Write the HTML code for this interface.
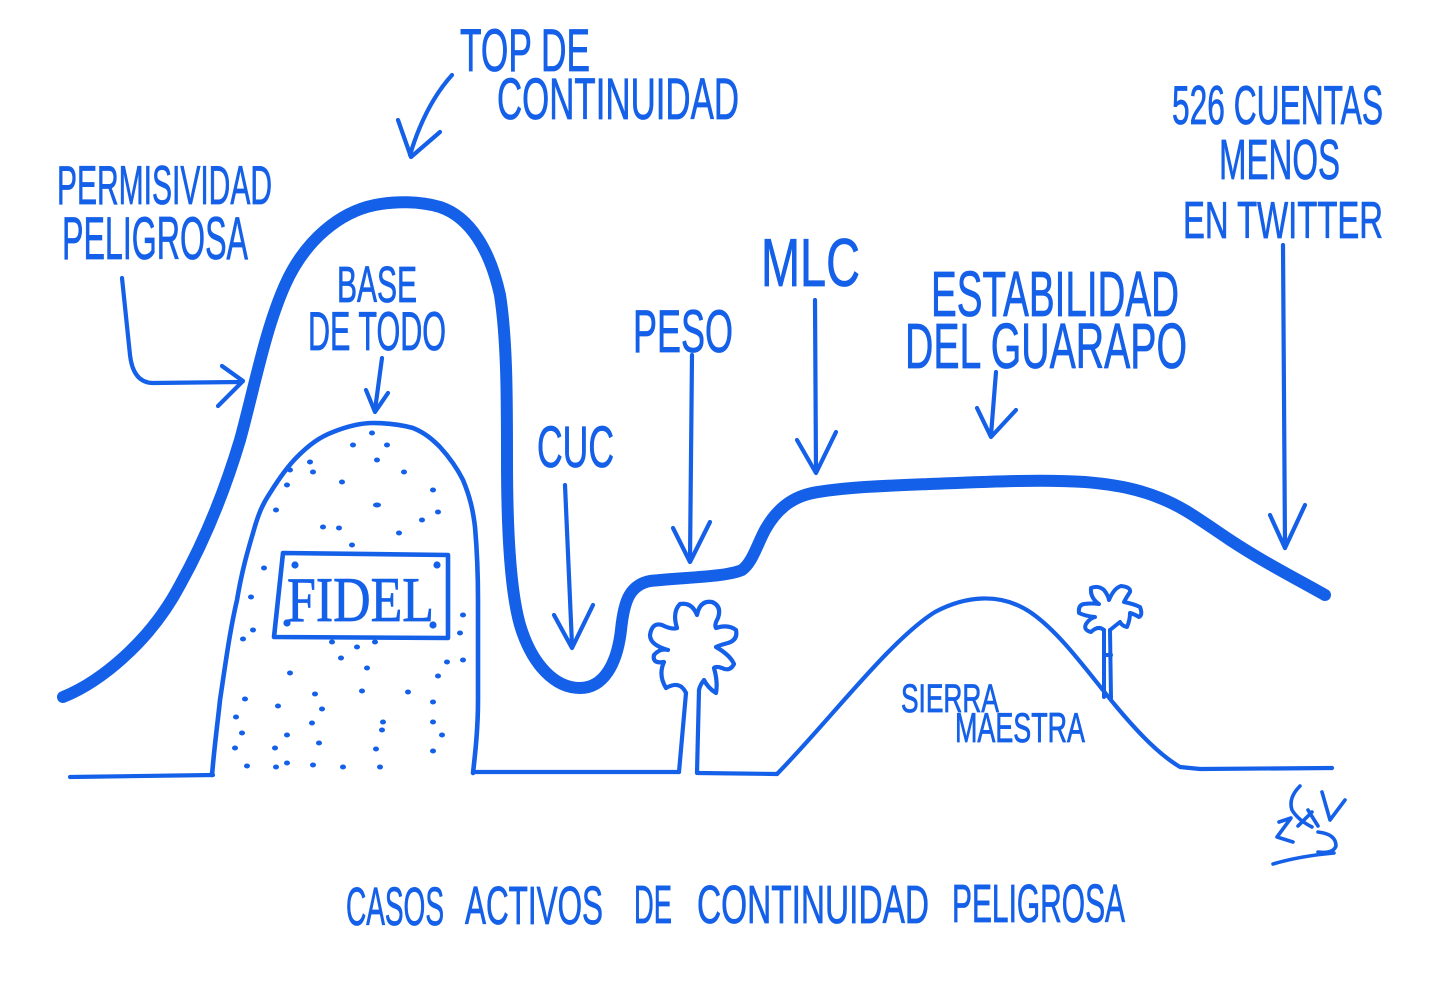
<!DOCTYPE html>
<html><head><meta charset="utf-8">
<style>
html,body{margin:0;padding:0;background:#fff;}
svg{display:block;}
text{font-family:"Liberation Sans",sans-serif;fill:#1560e8;stroke:#1560e8;stroke-width:0.8px;}
.serif{font-family:"Liberation Serif",serif;}
</style></head>
<body>
<svg width="1440" height="986" viewBox="0 0 1440 986" xmlns="http://www.w3.org/2000/svg">
<rect width="1440" height="986" fill="#fff"/>
<g fill="none" stroke="#1560e8" stroke-linecap="round" stroke-linejoin="round">
<!-- main curve -->
<path stroke-width="12" d="M63 697 C100 682,150 642,180 585 C205 540,225 490,240 440 C255 385,265 330,285 285 C305 240,340 212,375 205 C395 201,420 201,440 207 C470 217,490 250,500 295 C507 340,507 400,507 460 C507 530,510 590,520 625 C532 665,555 688,580 688 C603 688,617 665,621 630 C624 600,630 585,650 581 C690 577,725 577,742 570 C752 563,757 545,765 530 C775 512,790 496,818 492 C850 487,880 486,930 484 C980 482,1040 479,1085 482 C1120 485,1140 490,1160 498 C1185 508,1200 520,1230 540 C1265 563,1295 578,1325 595"/>
<!-- arrows -->
<g stroke-width="4.2">
<path d="M122 278 L130 355 Q133 382 152 383 L240 382"/>
<path d="M222 366 L243 381 L218 406"/>
<path d="M452 75 Q425 105 410 155"/>
<path d="M398 120 L411 157 L440 132"/>
<path d="M382 358 L375 410"/>
<path d="M366 390 L375 412 L388 393"/>
<path d="M565 485 L572 645"/>
<path d="M554 615 L572 648 L593 605"/>
<path d="M692 355 L690 560"/>
<path d="M673 528 L690 562 L710 522"/>
<path d="M815 300 L816 472"/>
<path d="M797 440 L816 473 L836 432"/>
<path d="M996 372 L991 435"/>
<path d="M977 408 L991 437 L1016 410"/>
<path d="M1283 245 L1285 548"/>
<path d="M1270 515 L1285 548 L1305 505"/>
</g>
<!-- tombstone -->
<path stroke-width="4.6" d="M212 775 C215 740,218 720,220 700 C226 660,230 630,237 600 C242 570,248 550,253 533 C258 515,262 505,270 493 C280 477,288 466,297 457 C310 444,320 437,333 432 C348 426,360 423,373 423 C390 423,402 425,413 428 C425 433,432 439,440 447 C450 458,457 468,463 480 C470 497,473 510,475 527 C477 550,478 575,478 600 C478 640,478 670,478 700 C478 730,475 755,473 773"/>
<path stroke-width="4.6" d="M283 553 L448 555 L448 638 L274 637 Z"/>
<!-- ground -->
<g stroke-width="4.2">
<path d="M70 777 L213 775"/>
<path d="M474 772 L679 772"/>
<path d="M698 773 L777 774"/>
<path d="M777 774 C830 720,890 640,935 612 C965 596,1000 592,1030 612 C1060 632,1090 675,1115 705 C1140 735,1160 755,1180 767 L1200 769 L1332 768"/>
</g>
<!-- palm 1 -->
<g stroke-width="4.2">
<path d="M686 693 L679 772"/>
<path d="M699 690 L697 773"/>
<path d="M686 693 Q680 680 666 688 Q658 675 664 662 Q652 664 654 655 Q660 648 668 650 Q650 645 650 635 Q652 622 662 625 Q672 630 677 628 Q672 612 680 604 Q692 602 697 615 Q700 600 712 602 Q722 606 718 618 Q714 625 716 628 Q728 624 736 630 Q738 640 728 643 Q720 645 716 647 Q730 655 734 664 Q730 672 722 668 Q716 666 714 668 Q718 682 716 693 Q708 688 704 680 Q700 685 699 690"/>
</g>
<!-- palm 2 -->
<g stroke-width="4">
<path d="M1104 630 L1104 697"/>
<path d="M1110 630 L1111 698"/>
<path d="M1104 655 L1111 655"/>
<path d="M1104 630 Q1098 625 1091 632 Q1083 630 1086 624 Q1090 618 1095 617 Q1085 616 1079 613 Q1078 605 1084 604 Q1092 603 1099 604 Q1090 598 1091 588 Q1098 585 1104 590 Q1108 595 1109 600 Q1114 588 1121 586 Q1131 587 1130 592 Q1126 598 1124 602 Q1134 604 1140 607 Q1143 615 1139 617 Q1134 614 1130 613 Q1130 620 1127 627 Q1122 626 1120 622 Q1115 626 1110 630"/>
</g>
<!-- signature -->
<g stroke-width="3.6">
<path d="M1300 786 Q1288 798 1292 810 Q1298 820 1312 827"/>
<path d="M1322 792 L1330 820 L1345 800"/>
<path d="M1279 822 L1291 818 L1277 837 L1293 842"/>
<path d="M1308 810 L1318 826"/>
<path d="M1298 826 L1312 812"/>
<path d="M1318 832 Q1336 834 1336 846 Q1333 854 1318 852"/>
<path d="M1273 864 Q1300 856 1334 853"/>
</g>
</g>
<!-- dots -->
<g fill="#1560e8">
<ellipse cx="372" cy="433" rx="3" ry="2.5"/><ellipse cx="353" cy="445" rx="3" ry="2.5"/><ellipse cx="387" cy="445" rx="3" ry="2.5"/><ellipse cx="377" cy="460" rx="3" ry="2.5"/><ellipse cx="310" cy="462" rx="3" ry="2.5"/><ellipse cx="313" cy="472" rx="3" ry="2.5"/><ellipse cx="404" cy="472" rx="3" ry="2.5"/><ellipse cx="290" cy="470" rx="3" ry="2.5"/><ellipse cx="342" cy="482" rx="3" ry="2.5"/><ellipse cx="287" cy="485" rx="3" ry="2.5"/><ellipse cx="433" cy="490" rx="3" ry="2.5"/><ellipse cx="377" cy="505" rx="4" ry="2.5"/><ellipse cx="276" cy="510" rx="3" ry="2.5"/><ellipse cx="438" cy="512" rx="3" ry="2.5"/><ellipse cx="422" cy="520" rx="3" ry="2.5"/><ellipse cx="323" cy="527" rx="3" ry="2.5"/><ellipse cx="339" cy="528" rx="3" ry="2.5"/><ellipse cx="399" cy="533" rx="3" ry="2.5"/><ellipse cx="352" cy="545" rx="3" ry="2.5"/><ellipse cx="264" cy="568" rx="3" ry="2.5"/><ellipse cx="251" cy="597" rx="3" ry="2.5"/><ellipse cx="463" cy="615" rx="3" ry="2.5"/><ellipse cx="253" cy="630" rx="3" ry="2.5"/><ellipse cx="460" cy="633" rx="3" ry="2.5"/><ellipse cx="243" cy="639" rx="3" ry="2.5"/><ellipse cx="357" cy="647" rx="3" ry="2.5"/><ellipse cx="375" cy="642" rx="3" ry="2.5"/><ellipse cx="332" cy="642" rx="3" ry="2.5"/><ellipse cx="341" cy="658" rx="3" ry="2.5"/><ellipse cx="367" cy="668" rx="3" ry="2.5"/><ellipse cx="447" cy="662" rx="3" ry="2.5"/><ellipse cx="463" cy="660" rx="3" ry="2.5"/><ellipse cx="290" cy="673" rx="3" ry="2.5"/><ellipse cx="438" cy="676" rx="3" ry="2.5"/><ellipse cx="315" cy="694" rx="3" ry="2.5"/><ellipse cx="362" cy="691" rx="3" ry="2.5"/><ellipse cx="408" cy="692" rx="3" ry="2.5"/><ellipse cx="433" cy="702" rx="3" ry="2.5"/><ellipse cx="245" cy="699" rx="3" ry="2.5"/><ellipse cx="278" cy="706" rx="3" ry="2.5"/><ellipse cx="236" cy="717" rx="3" ry="2.5"/><ellipse cx="322" cy="709" rx="3" ry="2.5"/><ellipse cx="433" cy="722" rx="3" ry="2.5"/><ellipse cx="383" cy="722" rx="3" ry="2.5"/><ellipse cx="312" cy="723" rx="3" ry="2.5"/><ellipse cx="242" cy="733" rx="3" ry="2.5"/><ellipse cx="287" cy="735" rx="3" ry="2.5"/><ellipse cx="382" cy="730" rx="3" ry="2.5"/><ellipse cx="442" cy="735" rx="3" ry="2.5"/><ellipse cx="235" cy="748" rx="3" ry="2.5"/><ellipse cx="275" cy="748" rx="3" ry="2.5"/><ellipse cx="319" cy="743" rx="3" ry="2.5"/><ellipse cx="376" cy="749" rx="3" ry="2.5"/><ellipse cx="433" cy="751" rx="3" ry="2.5"/><ellipse cx="247" cy="766" rx="3" ry="2.5"/><ellipse cx="276" cy="767" rx="3" ry="2.5"/><ellipse cx="287" cy="763" rx="3" ry="2.5"/><ellipse cx="313" cy="765" rx="3" ry="2.5"/><ellipse cx="343" cy="767" rx="3" ry="2.5"/><ellipse cx="380" cy="767" rx="3" ry="2.5"/>
<circle cx="295" cy="565" r="3.6"/><circle cx="437" cy="565" r="3.6"/><circle cx="287" cy="623" r="3.6"/><circle cx="433" cy="625" r="3.6"/>
</g>
<!-- labels -->
<text x="460" y="71" font-size="60" textLength="130" lengthAdjust="spacingAndGlyphs">TOP DE</text>
<text x="497" y="119" font-size="58" textLength="242" lengthAdjust="spacingAndGlyphs">CONTINUIDAD</text>
<text x="57" y="204" font-size="55" textLength="215" lengthAdjust="spacingAndGlyphs">PERMISIVIDAD</text>
<text x="62" y="259" font-size="60" textLength="186" lengthAdjust="spacingAndGlyphs">PELIGROSA</text>
<text x="337" y="302" font-size="51" textLength="80" lengthAdjust="spacingAndGlyphs">BASE</text>
<text x="308" y="350" font-size="55" textLength="138" lengthAdjust="spacingAndGlyphs">DE TODO</text>
<text x="537" y="467" font-size="58" textLength="77" lengthAdjust="spacingAndGlyphs">CUC</text>
<text x="633" y="352" font-size="60" textLength="100" lengthAdjust="spacingAndGlyphs">PESO</text>
<text x="761" y="286" font-size="68" textLength="99" lengthAdjust="spacingAndGlyphs">MLC</text>
<text x="931" y="316" font-size="64" textLength="248" lengthAdjust="spacingAndGlyphs">ESTABILIDAD</text>
<text x="905" y="368" font-size="64" textLength="282" lengthAdjust="spacingAndGlyphs">DEL GUARAPO</text>
<text x="1172" y="124" font-size="55" textLength="211" lengthAdjust="spacingAndGlyphs">526 CUENTAS</text>
<text x="1219" y="179" font-size="57" textLength="121" lengthAdjust="spacingAndGlyphs">MENOS</text>
<text x="1183" y="238" font-size="52" textLength="200" lengthAdjust="spacingAndGlyphs">EN TWITTER</text>
<text x="901" y="712" font-size="40" textLength="98" lengthAdjust="spacingAndGlyphs">SIERRA</text>
<text x="955" y="742" font-size="42" textLength="130" lengthAdjust="spacingAndGlyphs">MAESTRA</text>
<text class="serif" x="287" y="621" font-size="64" textLength="147" lengthAdjust="spacingAndGlyphs">FIDEL</text>
<text x="346" y="925" font-size="54" textLength="98" lengthAdjust="spacingAndGlyphs">CASOS</text>
<text x="465" y="924" font-size="54" textLength="138" lengthAdjust="spacingAndGlyphs">ACTIVOS</text>
<text x="634" y="923" font-size="54" textLength="38" lengthAdjust="spacingAndGlyphs">DE</text>
<text x="697" y="923" font-size="54" textLength="232" lengthAdjust="spacingAndGlyphs">CONTINUIDAD</text>
<text x="952" y="922" font-size="54" textLength="173" lengthAdjust="spacingAndGlyphs">PELIGROSA</text>
</svg>
</body></html>
